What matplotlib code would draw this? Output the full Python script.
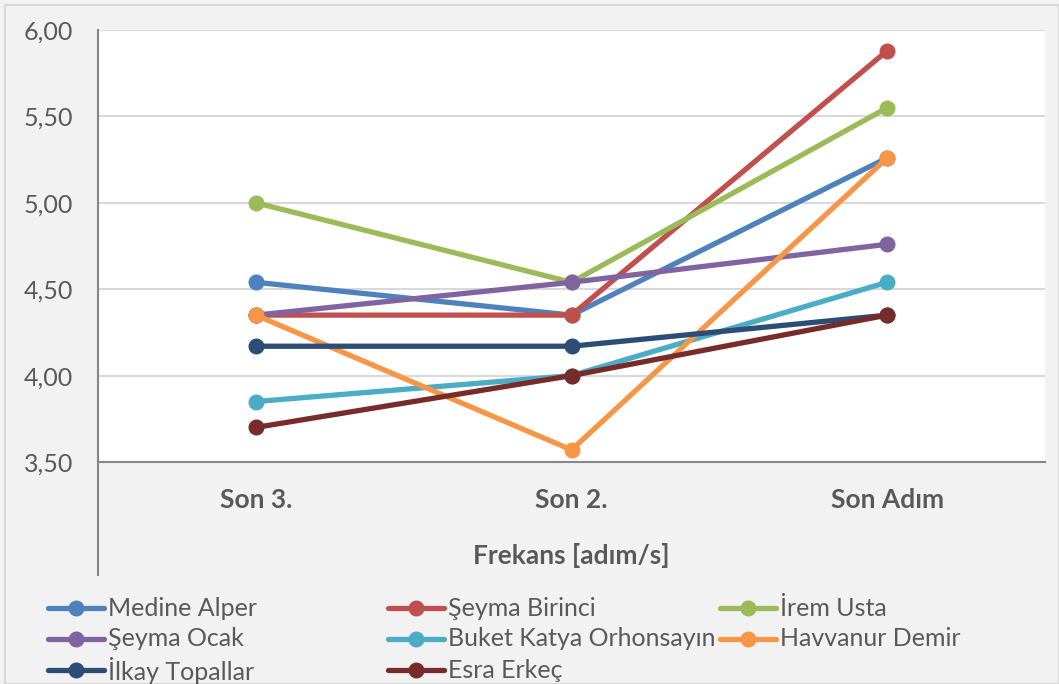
import matplotlib.pyplot as plt
from matplotlib.lines import Line2D
from matplotlib.patches import Rectangle

# ------------------------------------------------------------------------------
# Data
# ------------------------------------------------------------------------------
categories = ["Son 3.", "Son 2.", "Son Adım"]

names = ["Medine Alper", "Şeyma Birinci", "İrem Usta",
         "Şeyma Ocak", "Buket Katya Orhonsayın", "Havvanur Demir",
         "İlkay Topallar", "Esra Erkeç"]

medine   = [4.54, 4.35, 5.26]
birinci  = [4.35, 4.35, 5.88]
irem     = [5.00, 4.54, 5.55]
ocak     = [4.35, 4.54, 4.76]
buket    = [3.85, 4.00, 4.54]
havvanur = [4.35, 3.57, 5.26]
ilkay    = [4.17, 4.17, 4.35]
esra     = [3.70, 4.00, 4.35]

series = [medine, birinci, irem, ocak, buket, havvanur, ilkay, esra]
colors = ["#4F81BD", "#C0504D", "#9BBB59", "#8064A2",
          "#4BACC6", "#F79646", "#2C4D75", "#772C2A"]

yticks = [3.5, 4.0, 4.5, 5.0, 5.5, 6.0]

# ------------------------------------------------------------------------------
# Figure
# ------------------------------------------------------------------------------
plt.rcParams['font.family'] = ['Lato', 'DejaVu Sans']
txt_color = "#595959"

fig = plt.figure(figsize=(10.59, 6.84), dpi=100, facecolor="#F2F2F2")
W, H = 1059, 684
ax = fig.add_axes([98 / W, 1 - 462 / H, (1045 - 98) / W, (462 - 30) / H])
ax.set_facecolor("white")

# outer border of the chart area
fig.patches.append(Rectangle((5 / W, 0), 1 - 5 / W, 1 - 5 / H, transform=fig.transFigure,
                             fill=False, edgecolor="#D9D9D9", linewidth=1.5))

x = range(len(categories))
for vals, col in zip(series, colors):
    ax.plot(x, vals, color=col, linewidth=3.8, marker="o", markersize=10.5,
            solid_capstyle="round", zorder=3)

ax.set_xlim(-0.5, 2.5)
ax.set_ylim(3.5, 6.0)
ax.set_yticks(yticks)
ax.set_yticklabels([f"{v:.2f}".replace(".", ",") for v in yticks],
                   fontsize=18, color=txt_color)
ax.set_xticks(list(x))
ax.set_xticklabels(categories, fontsize=19, fontweight="bold", color=txt_color)
ax.tick_params(axis="both", length=0)
ax.tick_params(axis="x", pad=19)
ax.tick_params(axis="y", pad=18)
ax.grid(axis="y", color="#D9D9D9", linewidth=1.5, zorder=0)

for s in ["top", "right"]:
    ax.spines[s].set_visible(False)
ax.spines["bottom"].set_color("#868686")
ax.spines["bottom"].set_linewidth(1.5)
ax.spines["left"].set_color("#868686")
ax.spines["left"].set_linewidth(1.5)

# left axis line extends down through the category labels
ax.plot([-0.5, -0.5], [3.5, 3.5 - 113 / 172.8], color="#868686",
        linewidth=1.5, clip_on=False, zorder=4)

fig.text(571 / W, 1 - 555 / H, "Frekans [adım/s]", fontsize=19, fontweight="bold",
         color=txt_color, ha="center", va="center")

# legend: fixed column grid, filled row by row
col_x = [48, 388, 720]
row_y = [608, 639, 670]
for i, (name, col) in enumerate(zip(names, colors)):
    x0 = col_x[i % 3]
    y0 = 1 - row_y[i // 3] / H
    fig.add_artist(Line2D([x0 / W, (x0 + 56) / W], [y0, y0], color=col,
                          linewidth=3.8, solid_capstyle="round",
                          transform=fig.transFigure))
    fig.add_artist(Line2D([(x0 + 28) / W], [y0], color=col, marker="o",
                          markersize=10.5, transform=fig.transFigure))
    fig.text((x0 + 60) / W, y0, name, fontsize=18, color=txt_color,
             ha="left", va="center")

fig.savefig("out.png", dpi=100, facecolor=fig.get_facecolor())
